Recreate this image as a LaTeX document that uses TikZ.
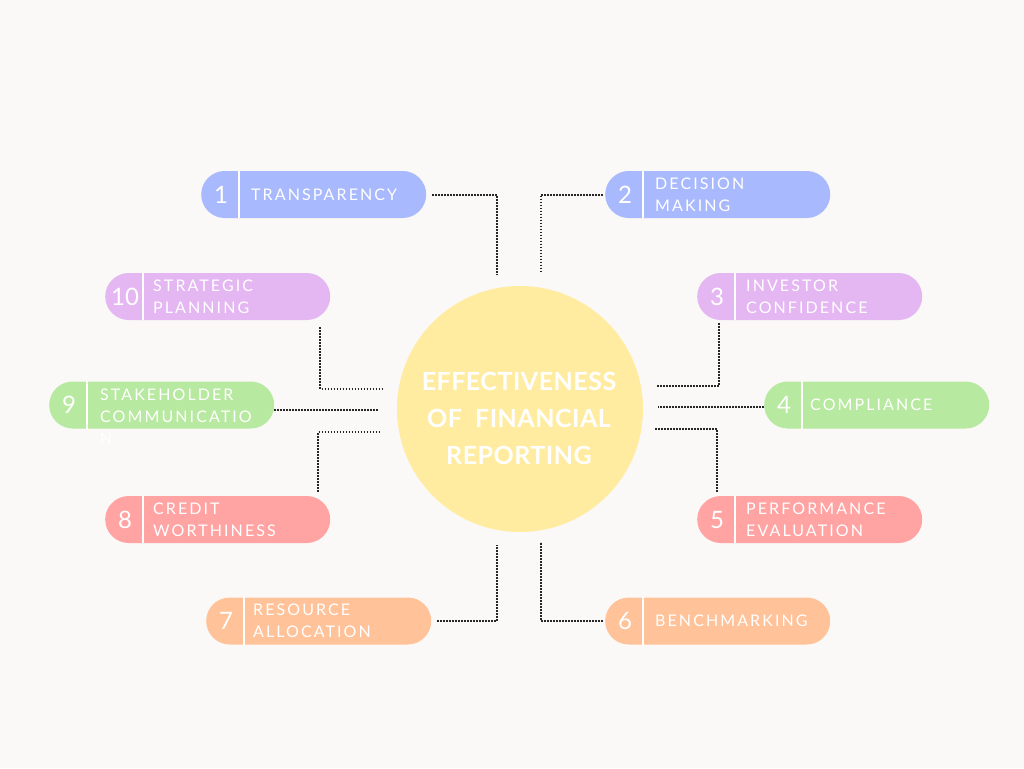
\documentclass[tikz,border=0pt]{standalone}
\usepackage{fontspec}
\setmainfont{Lato}
\newfontfamily\labfont[LetterSpace=13]{Lato}
\newfontfamily\titfont[LetterSpace=2]{Lato}
\usetikzlibrary{calc}
\definecolor{bgc}{HTML}{FAF9F7}
\definecolor{cblue}{HTML}{A9B9FD}
\definecolor{cpurple}{HTML}{E4B7F2}
\definecolor{cgreen}{HTML}{B7E9A0}
\definecolor{cred}{HTML}{FFA3A3}
\definecolor{corange}{HTML}{FFC299}
\definecolor{cyellow}{HTML}{FFECA0}
\tikzset{
  pill/.style={draw=none, fill=#1, rounded corners=23.5pt, minimum width=225pt, minimum height=47pt, inner sep=0pt, anchor=west},
  numtxt/.style={text=white, font=\fontsize{24}{24}\selectfont, inner sep=0pt},
  labtxt/.style={text=white, font=\labfont\fontsize{16}{22}\selectfont, align=left, inner sep=0pt},
  conn/.style={draw=black!85, line width=2pt, dash pattern=on 1.6pt off 1.4pt},
  divider/.style={draw=white, line width=2pt},
  hub/.style={circle, fill=cyellow, draw=none, minimum size=246pt, inner sep=0pt},
  hubtxt/.style={text=white, font=\titfont\bfseries\fontsize{25}{37}\selectfont, align=center, inner sep=0pt},
}
\newcommand\mkpill[6]{%
  \node[pill=#4] (b#1) at (#2,#3) {};
  \draw[divider] ([xshift=38pt]b#1.north west) -- ([xshift=38pt]b#1.south west);
  \node[numtxt] (n#1) at ([xshift=20pt]b#1.west) {#5};
}
\begin{document}
\begin{tikzpicture}[x=1pt,y=-1pt]
\useasboundingbox (0,0) rectangle (1024,768);
\fill[bgc] (0,0) rectangle (1024,768);

% hub
\node[hub] (hub) at (520,409) {};
\node[hubtxt] (title) at (519,418) {EFFECTIVENESS\\OF\ \ FINANCIAL\\REPORTING};

% pills
\mkpill{1}{201}{194.5}{cblue}{1}{}
\node[labtxt, anchor=west] (l1) at ([xshift=50pt]b1.west) {TRANSPARENCY};
\mkpill{2}{605}{194.5}{cblue}{2}{}
\node[labtxt, anchor=west] (l2) at ([xshift=50pt]b2.west) {DECISION\\MAKING};
\mkpill{10}{105}{296.5}{cpurple}{10}{}
\node[labtxt, anchor=west] (l10) at ([xshift=48pt]b10.west) {STRATEGIC\\PLANNING};
\mkpill{3}{697}{296.5}{cpurple}{3}{}
\node[labtxt, anchor=west] (l3) at ([xshift=49pt]b3.west) {INVESTOR\\CONFIDENCE};
\mkpill{9}{49}{405}{cgreen}{9}{}
\node[labtxt, anchor=north west] (l9) at ([xshift=51pt,yshift=16pt]b9.west) {STAKEHOLDER\\COMMUNICATIO\\N};
\mkpill{4}{764}{405}{cgreen}{4}{}
\node[labtxt, anchor=west] (l4) at ([xshift=46pt]b4.west) {COMPLIANCE};
\mkpill{8}{105}{519.5}{cred}{8}{}
\node[labtxt, anchor=west] (l8) at ([xshift=48pt]b8.west) {CREDIT\\WORTHINESS};
\mkpill{5}{697}{519.5}{cred}{5}{}
\node[labtxt, anchor=west] (l5) at ([xshift=49pt]b5.west) {PERFORMANCE\\EVALUATION};
\mkpill{7}{206}{621}{corange}{7}{}
\node[labtxt, anchor=west] (l7) at ([xshift=47pt]b7.west) {RESOURCE\\ALLOCATION};
\mkpill{6}{605}{621}{corange}{6}{}
\node[labtxt, anchor=west] (l6) at ([xshift=50pt]b6.west) {BENCHMARKING};

% connector ends near the hub
\coordinate (t1) at (497,275);
\coordinate (t2) at (541,272);
\coordinate (e10) at (382,389);
\coordinate (e9) at (378,410);
\coordinate (e8) at (381,432);
\coordinate (e3) at (657,386);
\coordinate (e4) at (658,407);
\coordinate (e5) at (655,429);
\coordinate (t7) at (497,545);
\coordinate (t6) at (541,542);

% connectors
\draw[conn] ([xshift=6pt]b1.east) -| (t1);
\draw[conn] ([xshift=-2pt]b2.west) -| (t2);
\draw[conn] ([shift={(-10,7)}]b10.south east) |- (e10);
\draw[conn] (b9.east |- e9) -- (e9);
\draw[conn] ([shift={(-12,-4)}]b8.north east) |- (e8);
\draw[conn] ([shift={(22,3)}]b3.south west) |- (e3);
\draw[conn] (b4.west |- e4) -- (e4);
\draw[conn] ([shift={(20,-4)}]b5.north west) |- (e5);
\draw[conn] ([xshift=6pt]b7.east) -| (t7);
\draw[conn] ([xshift=-2pt]b6.west) -| (t6);
\end{tikzpicture}
\end{document}
